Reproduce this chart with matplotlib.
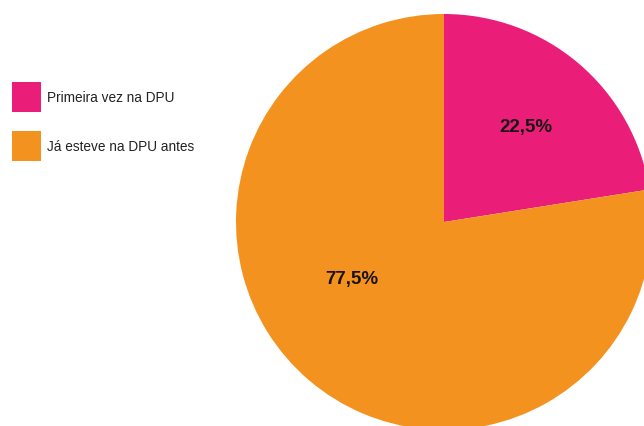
import matplotlib
matplotlib.use("Agg")
import matplotlib.pyplot as plt
from matplotlib.patches import Rectangle

categories = ["Primeira vez na DPU", "Já esteve na DPU antes"]
shares = [22.5, 77.5]
colors = ["#EA1E79", "#F4921F"]

plt.rcParams["font.family"] = ["Liberation Sans", "DejaVu Sans"]

fig = plt.figure(figsize=(6.44, 4.27), dpi=100)
ax = fig.add_axes([0, 0, 1, 1])

wedges, texts, autotexts = ax.pie(
    shares, colors=colors, startangle=90, counterclock=False,
    radius=1.0, center=(0, 0),
    autopct=lambda p: f"{p:.1f}%".replace(".", ","),
    pctdistance=0.57,
    wedgeprops=dict(linewidth=0),
    textprops=dict(fontsize=13.5, fontweight="bold", color="#1c1414"),
)

# percentage labels placed inside each wedge
label_spots = [(0.394, 0.457), (-0.442, -0.274)]
for t, xy in zip(autotexts, label_spots):
    t.set_position(xy)

# pixel scale: radius of 208 px, centre at (444, 223) from the top-left
scale = 208.0
ax.set_xlim(-444 / scale, (644 - 444) / scale)
ax.set_ylim(-(427 - 223) / scale, 223 / scale)
ax.set_aspect("equal", adjustable="datalim")
ax.axis("off")

# legend: coloured squares with labels at the left
W, H = 644.0, 427.0
sq_tops = [83, 132]
for cat, col, top in zip(categories, colors, sq_tops):
    fig.patches.append(Rectangle((12 / W, 1 - (top + 30) / H), 29 / W, 30 / H,
                                 transform=fig.transFigure, facecolor=col,
                                 edgecolor="none"))
    fig.text(47 / W, 1 - (top + 15) / H, cat, fontsize=9.8, color="#222222",
             va="center", ha="left")

fig.savefig("out.png", dpi=100)
